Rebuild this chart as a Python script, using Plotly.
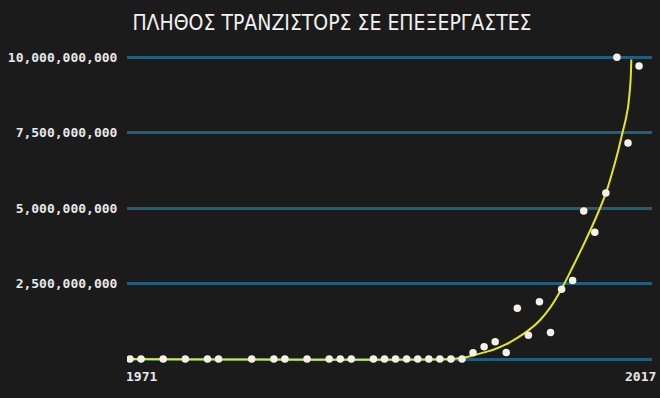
import plotly.graph_objects as go

# Data (transistor counts, billions)
years = [1971, 1972, 1974, 1976, 1978, 1979, 1982, 1984, 1985, 1987, 1989, 1990, 1991,
         1993, 1994, 1995, 1996, 1997, 1998, 1999, 2000, 2001, 2002, 2003, 2004, 2005,
         2006, 2007, 2008, 2009, 2010, 2011, 2012, 2013, 2014, 2015, 2016, 2017]
counts_b = [0, 0, 0, 0, 0, 0, 0, 0, 0, 0, 0, 0, 0,
            0, 0, 0, 0, 0, 0, 0, 0, 0, 0.21, 0.41, 0.57, 0.22,
            1.68, 0.79, 1.90, 0.88, 2.31, 2.60, 4.91, 4.20, 5.50, 10.0, 7.16, 9.71]

fit_years = [1971, 2000, 2001, 2002, 2003, 2004, 2005, 2006, 2007, 2008, 2009, 2010,
             2011, 2012, 2013, 2014, 2015, 2015.5, 2015.8, 2016, 2016.15, 2016.25, 2016.3]
fit_b = [0, 0, 0.03, 0.12, 0.22, 0.33, 0.49, 0.7, 0.95, 1.27, 1.72, 2.33,
         3.05, 3.8, 4.6, 5.5, 6.75, 7.5, 7.95, 8.35, 8.85, 9.35, 9.93]

tick_vals_b = [0, 2.5, 5, 7.5, 10]
tick_text = ["", "2,500,000,000", "5,000,000,000", "7,500,000,000", "10,000,000,000"]
x_labels = ["1971", "2017"]

B = 1e9
fig = go.Figure()
fig.add_trace(go.Scatter(x=fit_years, y=[v * B for v in fit_b], mode="lines",
                         line=dict(color="#e6e61e", width=2, shape="spline", smoothing=1.0),
                         hoverinfo="skip", showlegend=False))
fig.add_trace(go.Scatter(x=years, y=[v * B for v in counts_b], mode="markers",
                         marker=dict(color="#f4f2e6", size=7.5, line=dict(width=0)),
                         showlegend=False))

lab_font = dict(family="DejaVu Sans Mono", size=13, color="#e8e8e8", weight="bold")
fig.add_annotation(x=years[0], y=0, xref="x", yref="paper", yanchor="top", xanchor="left",
                   xshift=-6, yshift=8, text=x_labels[0], showarrow=False, font=lab_font)
fig.add_annotation(x=years[-1], y=0, xref="x", yref="paper", yanchor="top", xanchor="center",
                   xshift=1, yshift=8, text=x_labels[1], showarrow=False, font=lab_font)

fig.update_layout(
    width=660, height=398,
    paper_bgcolor="#1b1b1b", plot_bgcolor="#1b1b1b",
    margin=dict(l=127, r=8, t=45, b=23),
    title=dict(text="ΠΛΗΘΟΣ ΤΡΑΝΖΙΣΤΟΡΣ ΣΕ ΕΠΕΞΕΡΓΑΣΤΕΣ", x=0.503, xanchor="center",
               y=0.942, yanchor="middle",
               font=dict(family="Liberation Sans Narrow, DejaVu Sans Condensed, sans-serif",
                         size=21, color="#f2f2f2")),
    xaxis=dict(range=[1970.73, 2018.17], showgrid=False, zeroline=False,
               showticklabels=False, showline=False, fixedrange=True),
    yaxis=dict(range=[-0.53 * B, 10.41 * B], tickvals=[v * B for v in tick_vals_b],
               ticktext=tick_text, showgrid=True, gridcolor="#1f5f7a", gridwidth=2.5,
               zeroline=False, showline=False, ticks="outside", ticklen=6,
               tickcolor="rgba(0,0,0,0)", tickfont=lab_font),
)
fig.write_html("out.html")
